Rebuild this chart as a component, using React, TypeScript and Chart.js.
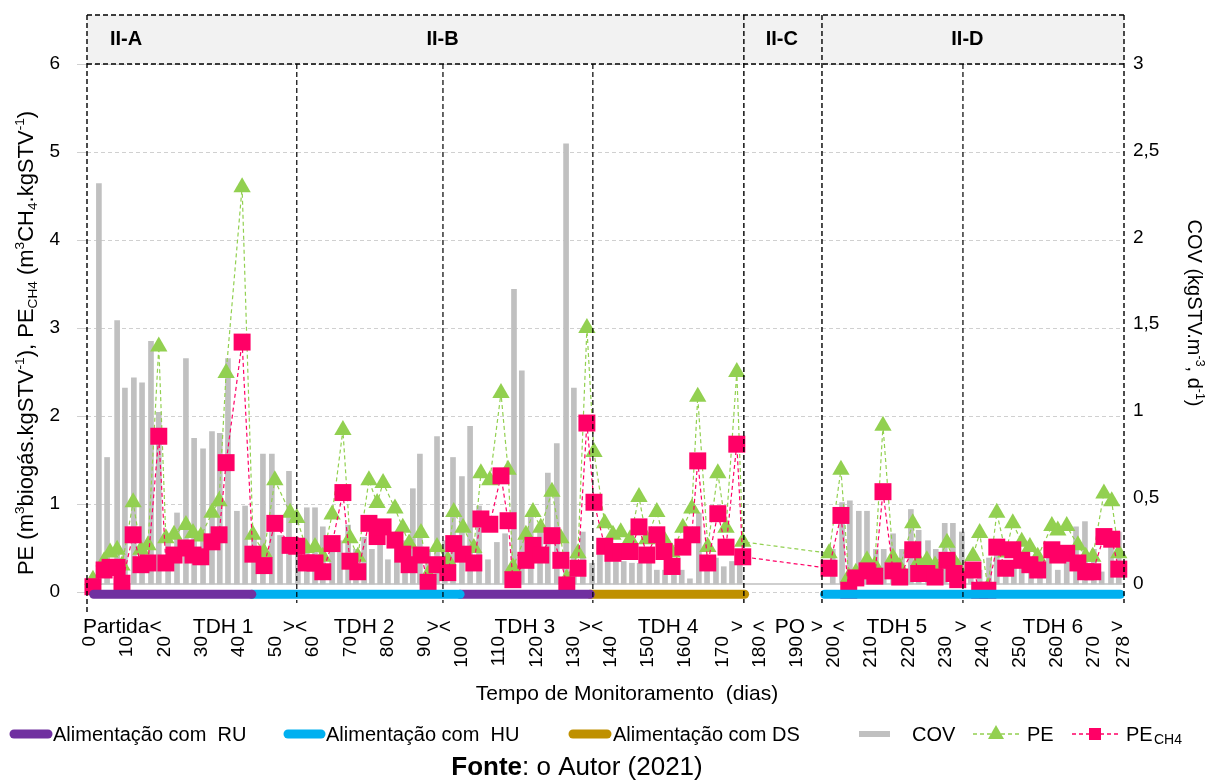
import React, { useEffect, useRef } from "react";
import { Chart, registerables } from "chart.js";

Chart.register(...registerables);

// ---------------- DATA ----------------
const xTickValues = [0, 10, 20, 30, 40, 50, 60, 70, 80, 90, 100, 110, 120, 130, 140, 150, 160, 170, 180, 190, 200, 210, 220, 230, 240, 250, 260, 270, 278];
const leftTickValues = [0, 1, 2, 3, 4, 5, 6];
const rightTickValues = [0, 0.5, 1, 1.5, 2, 2.5, 3];

const sampleDays = [0.8, 3.8, 5.4, 7.3, 8.6, 11.6, 13.7, 15.6, 18.5, 20.4, 22.6, 25.8, 27.7, 29.8, 32.8, 34.7, 36.6, 40.9, 43.8, 46.8, 49.7, 53.8, 55.6, 58.1, 60.5, 62.6, 65.1, 68.0, 69.9, 72.0, 75.0, 77.2, 78.8, 82.0, 84.1, 85.8, 89.0, 90.9, 93.3, 96.2, 97.8, 100.3, 103.2, 105.1, 107.5, 110.5, 112.4, 113.7, 117.2, 119.1, 121.2, 124.2, 126.6, 128.2, 131.2, 133.6, 135.5, 138.4, 140.6, 142.7, 145.2, 147.6, 149.7, 152.4, 154.3, 156.5, 159.4, 161.8, 163.4, 166.1, 168.8, 171.0, 173.9, 175.5, 198.7, 201.9, 204.0, 205.9, 208.9, 211.0, 213.2, 215.9, 217.7, 221.2, 222.8, 225.0, 227.2, 230.4, 232.3, 233.3, 237.4, 239.2, 241.4, 243.8, 246.2, 248.1, 250.5, 252.7, 254.8, 258.6, 260.2, 262.6, 265.6, 267.7, 269.6, 272.6, 274.7, 276.6];
const peValues = [0.14, 0.35, 0.45, 0.48, 0.30, 1.02, 0.48, 0.53, 2.79, 0.61, 0.65, 0.76, 0.67, 0.63, 0.90, 1.03, 2.49, 4.60, 0.65, 0.45, 1.27, 0.90, 0.84, 0.50, 0.51, 0.40, 0.88, 1.84, 0.61, 0.40, 1.27, 1.01, 1.24, 0.95, 0.73, 0.55, 0.67, 0.20, 0.51, 0.36, 0.91, 0.73, 0.50, 1.35, 1.27, 2.26, 1.39, 0.28, 0.65, 0.91, 0.73, 1.14, 0.61, 0.15, 0.44, 3.00, 1.59, 0.78, 0.65, 0.68, 0.60, 1.08, 0.60, 0.91, 0.60, 0.45, 0.73, 0.95, 2.22, 0.51, 1.35, 0.73, 2.50, 0.57, 0.44, 1.39, 0.17, 0.22, 0.36, 0.30, 1.89, 0.39, 0.28, 0.78, 0.35, 0.36, 0.30, 0.56, 0.35, 0.28, 0.41, 0.67, 0.05, 0.90, 0.45, 0.78, 0.57, 0.51, 0.40, 0.75, 0.70, 0.75, 0.53, 0.40, 0.40, 1.12, 1.03, 0.44];
const peCH4Values = [0.06, 0.25, 0.28, 0.28, 0.10, 0.65, 0.31, 0.33, 1.77, 0.33, 0.42, 0.50, 0.42, 0.40, 0.57, 0.65, 1.47, 2.84, 0.43, 0.30, 0.78, 0.53, 0.52, 0.33, 0.33, 0.23, 0.55, 1.13, 0.35, 0.23, 0.78, 0.63, 0.74, 0.59, 0.43, 0.31, 0.42, 0.11, 0.31, 0.22, 0.55, 0.43, 0.33, 0.83, 0.77, 1.32, 0.81, 0.14, 0.36, 0.53, 0.42, 0.64, 0.36, 0.08, 0.27, 1.92, 1.02, 0.52, 0.44, 0.46, 0.46, 0.74, 0.42, 0.65, 0.46, 0.29, 0.51, 0.65, 1.49, 0.33, 0.89, 0.51, 1.68, 0.40, 0.27, 0.87, 0.02, 0.16, 0.24, 0.18, 1.14, 0.24, 0.17, 0.48, 0.21, 0.21, 0.17, 0.36, 0.21, 0.14, 0.25, 0.02, 0.02, 0.51, 0.27, 0.48, 0.36, 0.31, 0.25, 0.48, 0.42, 0.44, 0.33, 0.23, 0.23, 0.63, 0.60, 0.26];

const covDays = [2.4, 4.6, 7.3, 9.4, 11.8, 14.0, 16.4, 18.5, 21.0, 23.4, 25.8, 28.0, 30.4, 32.8, 34.9, 37.1, 39.5, 41.7, 44.1, 46.5, 48.9, 51.1, 53.5, 55.9, 58.3, 60.5, 62.6, 65.1, 67.2, 69.4, 71.5, 73.7, 75.8, 78.0, 80.1, 82.5, 84.7, 86.8, 88.7, 90.9, 93.3, 95.4, 97.6, 100.0, 102.2, 104.6, 107.0, 109.4, 111.6, 114.0, 116.1, 118.5, 121.0, 123.1, 125.5, 128.0, 130.1, 132.5, 135.0, 137.1, 139.2, 141.4, 143.5, 145.7, 147.8, 150.3, 152.4, 154.6, 157.0, 159.1, 161.3, 163.7, 165.9, 168.3, 170.4, 172.6, 174.7, 199.7, 202.2, 204.3, 206.7, 208.9, 211.3, 213.4, 215.9, 218.3, 220.7, 222.8, 225.3, 227.4, 229.8, 232.0, 234.4, 236.8, 239.2, 241.7, 243.8, 246.2, 248.4, 250.5, 253.0, 255.4, 257.8, 260.2, 262.6, 265.1, 267.5, 269.9, 272.0, 274.5, 276.6];
const covValues = [2.31, 0.73, 1.52, 1.13, 1.19, 1.16, 1.40, 0.99, 0.25, 0.41, 1.30, 0.84, 0.78, 0.88, 0.87, 1.30, 0.42, 0.45, 0.30, 0.75, 0.75, 0.28, 0.65, 0.20, 0.44, 0.44, 0.33, 0.20, 0.25, 0.34, 0.20, 0.27, 0.20, 0.28, 0.14, 0.30, 0.25, 0.55, 0.75, 0.20, 0.85, 0.25, 0.73, 0.62, 0.91, 0.45, 0.14, 0.24, 0.29, 1.70, 1.23, 0.40, 0.30, 0.64, 0.81, 2.54, 1.13, 0.30, 0.12, 0.20, 0.18, 0.13, 0.13, 0.12, 0.12, 0.13, 0.08, 0.08, 0.05, 0.08, 0.03, 0.41, 0.08, 0.15, 0.10, 0.13, 0.15, 0.20, 0.47, 0.48, 0.42, 0.42, 0.20, 0.20, 0.29, 0.20, 0.43, 0.31, 0.25, 0.20, 0.35, 0.35, 0.30, 0.10, 0.08, 0.15, 0.20, 0.10, 0.12, 0.10, 0.12, 0.15, 0.20, 0.08, 0.20, 0.33, 0.36, 0.20, 0.07, 0.30, 0.30];

// feeding periods
const feedStart = [1, 43.5, 99.5, 134.5, 197.5];
const feedEnd = [43.5, 99.5, 134.5, 176, 277];
const feedType = ["RU", "HU", "RU", "DS", "HU"];
const feedColors: Record<string, string> = { RU: "#7030a0", HU: "#00b0f0", DS: "#bf9000" };

// phases
const phaseNames = ["II-A", "II-B", "II-C", "II-D"];
const phaseLabelDays = [9.7, 94.8, 186, 235.9];
const phaseBoundDays = [-0.8, 175.8, 196.8, 278];
const tdhBoundDays = [55.6, 94.9, 135.2, 234.7];

const stageTexts = ["Partida<", "TDH 1", "><", "TDH 2", "><", "TDH 3", "><", "TDH 4", ">", "<", "PO", ">", "<", "TDH 5", ">", "<", "TDH 6", ">"];
const stageDays = [8.7, 35.8, 55.1, 73.7, 93.8, 116.9, 134.7, 155.4, 173.9, 179.8, 188.2, 195.4, 201.3, 216.9, 234.1, 240.9, 258.9, 276.1];

const FONT = "'Liberation Sans', Arial, sans-serif";
const GREEN = "#92d050";
const PINK = "#ff0066";
const GRAY = "#c0c0c0";

type Seg = { t: string; s?: "sup" | "sub" };

function richWidth(ctx: CanvasRenderingContext2D, segs: Seg[], size: number) {
  let w = 0;
  for (const sg of segs) {
    const fs = sg.s ? size * 0.62 : size;
    ctx.font = `${fs}px ${FONT}`;
    w += ctx.measureText(sg.t).width;
  }
  return w;
}

function drawRich(ctx: CanvasRenderingContext2D, segs: Seg[], cx: number, cy: number, angle: number, size: number) {
  ctx.save();
  ctx.translate(cx, cy);
  ctx.rotate(angle);
  const w = richWidth(ctx, segs, size);
  let x = -w / 2;
  ctx.textBaseline = "alphabetic";
  ctx.textAlign = "left";
  ctx.fillStyle = "#000";
  const base = size * 0.35;
  for (const sg of segs) {
    const fs = sg.s ? size * 0.62 : size;
    ctx.font = `${fs}px ${FONT}`;
    let dy = 0;
    if (sg.s === "sup") dy = -size * 0.38;
    if (sg.s === "sub") dy = size * 0.2;
    ctx.fillText(sg.t, x, base + dy);
    x += ctx.measureText(sg.t).width;
  }
  ctx.restore();
}

const leftTitle: Seg[] = [
  { t: "PE (m" }, { t: "3", s: "sup" }, { t: "biogás.kgSTV" }, { t: "-1", s: "sup" }, { t: "), PE" },
  { t: "CH4", s: "sub" }, { t: " (m" }, { t: "3", s: "sup" }, { t: "CH" }, { t: "4", s: "sub" },
  { t: ".kgSTV" }, { t: "-1", s: "sup" }, { t: ")" },
];
const rightTitle: Seg[] = [
  { t: "COV (kgSTV.m" }, { t: "-3", s: "sup" }, { t: ", d" }, { t: "-1", s: "sup" }, { t: ")" },
];

const overlayPlugin = {
  id: "overlay",
  beforeDatasetsDraw(chart: any) {
    const { ctx, chartArea: ca, scales } = chart;
    const y0 = scales.yR.getPixelForValue(0);
    ctx.save();
    ctx.strokeStyle = "#bfbfbf";
    ctx.lineWidth = 1.5;
    ctx.beginPath();
    ctx.moveTo(ca.left, y0);
    ctx.lineTo(ca.right, y0);
    ctx.stroke();
    ctx.restore();
  },
  afterDatasetsDraw(chart: any) {
    const { ctx, chartArea: ca, scales } = chart;
    const xs = scales.x;
    const bandTop = ca.top - 49;
    ctx.save();
    ctx.fillStyle = "#f2f2f2";
    ctx.fillRect(ca.left, bandTop, ca.right - ca.left, ca.top - bandTop);
    ctx.strokeStyle = "#000";
    ctx.lineWidth = 1.4;
    ctx.setLineDash([5, 3]);
    ctx.beginPath();
    ctx.moveTo(ca.left, bandTop);
    ctx.lineTo(ca.right, bandTop);
    ctx.moveTo(ca.left, ca.top);
    ctx.lineTo(ca.right, ca.top);
    ctx.stroke();
    phaseBoundDays.forEach((d, i) => {
      const x = xs.getPixelForValue(d);
      ctx.beginPath();
      ctx.moveTo(x, bandTop);
      ctx.lineTo(x, ca.bottom + (i === 0 ? 20 : 11));
      ctx.stroke();
    });
    ctx.lineWidth = 1.2;
    tdhBoundDays.forEach((d) => {
      const x = xs.getPixelForValue(d);
      ctx.beginPath();
      ctx.moveTo(x, ca.top);
      ctx.lineTo(x, ca.bottom + 11);
      ctx.stroke();
    });
    ctx.setLineDash([]);
    ctx.fillStyle = "#000";
    ctx.font = `bold 20px ${FONT}`;
    ctx.textAlign = "center";
    ctx.textBaseline = "middle";
    phaseNames.forEach((n, i) => {
      ctx.fillText(n, xs.getPixelForValue(phaseLabelDays[i]), bandTop + 24);
    });
    ctx.restore();
  },
  afterDraw(chart: any) {
    const { ctx, chartArea: ca, scales } = chart;
    const xs = scales.x;
    ctx.save();
    ctx.fillStyle = "#000";
    ctx.font = `21px ${FONT}`;
    ctx.textAlign = "center";
    ctx.textBaseline = "alphabetic";
    stageTexts.forEach((t, i) => {
      ctx.fillText(t, xs.getPixelForValue(stageDays[i]), ca.bottom + 41);
    });
    ctx.font = `21px ${FONT}`;
    ctx.fillText("Tempo de Monitoramento  (dias)", 627, 700);
    ctx.restore();

    drawRich(ctx, leftTitle, 25, 343, -Math.PI / 2, 22);
    drawRich(ctx, rightTitle, 1195, 313, Math.PI / 2, 20);

    // legend
    ctx.save();
    const ly = 734;
    ctx.lineCap = "round";
    ctx.lineWidth = 9;
    const feedLegend: [string, number, number, number, string][] = [
      ["RU", 14, 48, 53, "Alimentação com  RU"],
      ["HU", 288, 321, 326, "Alimentação com  HU"],
      ["DS", 573, 607, 613, "Alimentação com DS"],
    ];
    ctx.font = `20px ${FONT}`;
    ctx.textBaseline = "middle";
    ctx.textAlign = "left";
    feedLegend.forEach(([k, a, b, tx, label]) => {
      ctx.strokeStyle = feedColors[k];
      ctx.beginPath();
      ctx.moveTo(a, ly);
      ctx.lineTo(b, ly);
      ctx.stroke();
      ctx.fillStyle = "#000";
      ctx.fillText(label, tx, ly + 1);
    });
    ctx.lineCap = "butt";
    ctx.strokeStyle = GRAY;
    ctx.lineWidth = 6;
    ctx.beginPath();
    ctx.moveTo(859, ly);
    ctx.lineTo(890, ly);
    ctx.stroke();
    ctx.fillStyle = "#000";
    ctx.fillText("COV", 912, ly + 1);
    ctx.lineWidth = 1.3;
    ctx.setLineDash([4, 3]);
    ctx.strokeStyle = GREEN;
    ctx.beginPath();
    ctx.moveTo(973, ly);
    ctx.lineTo(1019, ly);
    ctx.stroke();
    ctx.strokeStyle = PINK;
    ctx.beginPath();
    ctx.moveTo(1072, ly);
    ctx.lineTo(1118, ly);
    ctx.stroke();
    ctx.setLineDash([]);
    ctx.fillStyle = GREEN;
    ctx.beginPath();
    ctx.moveTo(996, ly - 9);
    ctx.lineTo(1004, ly + 5);
    ctx.lineTo(988, ly + 5);
    ctx.closePath();
    ctx.fill();
    ctx.fillStyle = PINK;
    ctx.fillRect(1089, ly - 6, 12, 12);
    ctx.fillStyle = "#000";
    ctx.fillText("PE", 1027, ly + 1);
    ctx.fillText("PE", 1126, ly + 1);
    ctx.font = `14px ${FONT}`;
    ctx.fillText("CH4", 1154, ly + 6);
    // fonte
    ctx.textBaseline = "alphabetic";
    ctx.font = `bold 26px ${FONT}`;
    const w1 = ctx.measureText("Fonte").width;
    ctx.font = `26px ${FONT}`;
    const rest = ": o Autor (2021)";
    const w2 = ctx.measureText(rest).width;
    const sx = 577 - (w1 + w2) / 2;
    ctx.font = `bold 26px ${FONT}`;
    ctx.fillText("Fonte", sx, 775);
    ctx.font = `26px ${FONT}`;
    ctx.fillText(rest, sx + w1, 775);
    ctx.restore();
  },
};

export default function App() {
  const ref = useRef<HTMLCanvasElement | null>(null);
  useEffect(() => {
    if (!ref.current) return;
    document.body.style.margin = "0";
    Chart.defaults.font.family = FONT;
    const peData = sampleDays.map((d, i) => ({ x: d, y: peValues[i] }));
    const ch4Data = sampleDays.map((d, i) => ({ x: d, y: peCH4Values[i] }));
    const covData = covDays.map((d, i) => ({ x: d, y: covValues[i] }));
    const feedSets = feedStart.map((s, i) => ({
      type: "line" as const,
      data: [{ x: s, y: -0.025 }, { x: feedEnd[i], y: -0.025 }],
      borderColor: feedColors[feedType[i]],
      borderWidth: 9,
      borderCapStyle: "round" as const,
      pointRadius: 0,
      yAxisID: "yL",
      order: 0,
      clip: false as any,
    }));
    const chart = new Chart(ref.current, {
      type: "bar",
      data: {
        datasets: [
          ...feedSets,
          {
            type: "line",
            label: "PE CH4",
            data: ch4Data,
            borderColor: PINK,
            backgroundColor: PINK,
            borderWidth: 1.2,
            borderDash: [4, 3],
            pointStyle: "rect",
            pointRadius: 12,
            pointBorderWidth: 0,
            yAxisID: "yL",
            order: 1,
            clip: false as any,
          },
          {
            type: "line",
            label: "PE",
            data: peData,
            borderColor: GREEN,
            backgroundColor: GREEN,
            borderWidth: 1.2,
            borderDash: [4, 3],
            pointStyle: "triangle",
            pointRadius: 10,
            pointBorderWidth: 0,
            yAxisID: "yL",
            order: 2,
            clip: false as any,
          },
          {
            type: "bar",
            label: "COV",
            data: covData,
            backgroundColor: GRAY,
            barThickness: 5,
            yAxisID: "yR",
            order: 3,
          },
        ] as any,
      },
      options: {
        responsive: false,
        animation: false,
        layout: { padding: { left: 0, right: 0, top: 64, bottom: 0 } },
        plugins: { legend: { display: false }, tooltip: { enabled: false }, title: { display: false } },
        scales: {
          x: {
            type: "linear",
            min: -0.8,
            max: 278,
            offset: false,
            grid: { display: false, drawTicks: false },
            border: { display: false },
            afterBuildTicks: (s: any) => {
              s.ticks = xTickValues.map((v) => ({ value: v }));
            },
            afterFit: (s: any) => {
              s.height = 188;
            },
            ticks: {
              autoSkip: false,
              minRotation: 90,
              maxRotation: 90,
              padding: 44,
              color: "#000",
              font: { size: 19, family: FONT },
              callback: (v: any) => String(v),
            },
          },
          yL: {
            type: "linear",
            position: "left",
            min: 0,
            max: 6,
            grid: { color: "#d0d0d0", lineWidth: 1, drawTicks: true, tickLength: 10 },
            border: { display: false, dash: [4, 3] },
            afterBuildTicks: (s: any) => {
              s.ticks = leftTickValues.map((v) => ({ value: v }));
            },
            afterFit: (s: any) => {
              s.width = 87;
            },
            ticks: { padding: 17, color: "#000", font: { size: 19, family: FONT } },
          },
          yR: {
            type: "linear",
            position: "right",
            min: -0.046,
            max: 3,
            grid: { display: false, drawTicks: false },
            border: { display: false },
            afterBuildTicks: (s: any) => {
              s.ticks = rightTickValues.map((v) => ({ value: v }));
            },
            afterFit: (s: any) => {
              s.width = 97;
            },
            ticks: {
              padding: 9,
              color: "#000",
              font: { size: 19, family: FONT },
              callback: (v: any) => String(v).replace(".", ","),
            },
          },
        },
      } as any,
      plugins: [overlayPlugin],
    });
    return () => chart.destroy();
  }, []);
  return (
    <div style={{ position: "absolute", left: 0, top: 0, width: 1221, height: 780, background: "#fff" }}>
      <canvas ref={ref} width={1221} height={780} style={{ width: 1221, height: 780, display: "block" }} />
    </div>
  );
}
